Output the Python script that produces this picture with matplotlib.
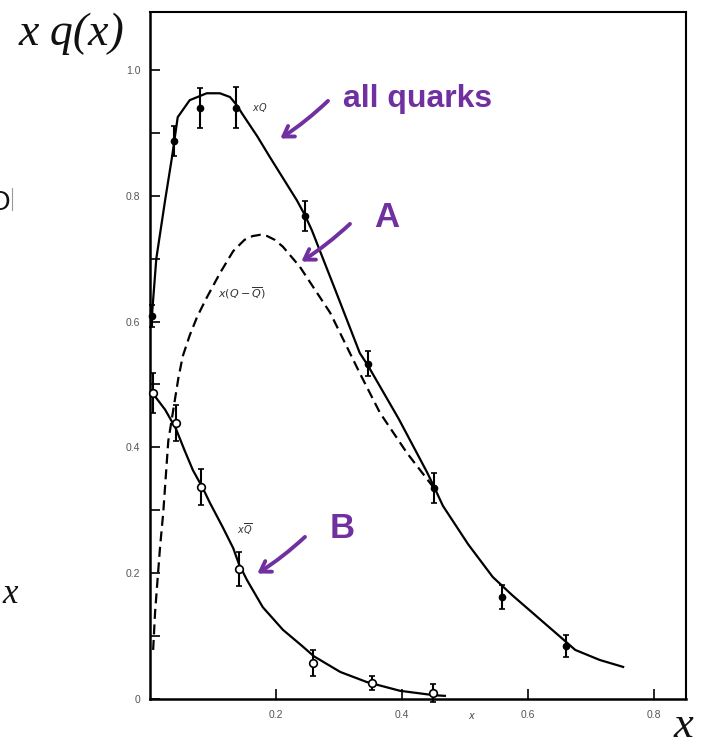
import matplotlib
matplotlib.use("Agg")
import matplotlib.pyplot as plt
from matplotlib.patches import FancyArrowPatch
from matplotlib.ticker import MultipleLocator

# measured points: x Q (all quarks), filled circles
xq_x = [0.003, 0.038, 0.079, 0.137, 0.246, 0.346, 0.451, 0.559, 0.660]
xq_y = [0.609, 0.887, 0.940, 0.940, 0.768, 0.533, 0.335, 0.162, 0.084]
xq_err = [0.017, 0.024, 0.032, 0.033, 0.024, 0.020, 0.024, 0.019, 0.017]

# measured points: x Qbar (antiquarks), open circles
xqbar_x = [0.005, 0.041, 0.081, 0.141, 0.259, 0.352, 0.449]
xqbar_y = [0.486, 0.439, 0.337, 0.207, 0.057, 0.025, 0.010]
xqbar_err = [0.032, 0.029, 0.029, 0.027, 0.021, 0.011, 0.014]

# fitted curves
fit_xq_x = [0.003, 0.010, 0.024, 0.035, 0.044, 0.063, 0.090, 0.111, 0.127, 0.137,
            0.148, 0.170, 0.190, 0.233, 0.246, 0.257, 0.295, 0.333, 0.346, 0.395,
            0.440, 0.451, 0.465, 0.505, 0.544, 0.575, 0.613, 0.651, 0.675, 0.714, 0.751]
fit_xq_y = [0.609, 0.700, 0.793, 0.862, 0.925, 0.952, 0.963, 0.963, 0.957, 0.945,
            0.928, 0.895, 0.862, 0.793, 0.769, 0.745, 0.648, 0.550, 0.530, 0.445,
            0.360, 0.337, 0.307, 0.246, 0.194, 0.165, 0.132, 0.099, 0.078, 0.062, 0.051]

fit_val_x = [0.005, 0.008, 0.012, 0.016, 0.021, 0.029, 0.037, 0.045, 0.052, 0.063, 0.075,
             0.090, 0.111, 0.132, 0.150, 0.163, 0.175, 0.186, 0.198, 0.211, 0.238, 0.286,
             0.333, 0.365, 0.408, 0.451]
fit_val_y = [0.078, 0.137, 0.190, 0.242, 0.296, 0.410, 0.460, 0.510, 0.545, 0.578, 0.608,
             0.638, 0.677, 0.712, 0.730, 0.736, 0.738, 0.736, 0.730, 0.719, 0.687, 0.614,
             0.518, 0.455, 0.391, 0.335]

fit_sea_x = [0.005, 0.024, 0.041, 0.055, 0.068, 0.084, 0.095, 0.115, 0.132, 0.141,
             0.154, 0.179, 0.211, 0.243, 0.260, 0.302, 0.344, 0.397, 0.451, 0.468]
fit_sea_y = [0.485, 0.460, 0.430, 0.395, 0.364, 0.335, 0.312, 0.274, 0.240, 0.215,
             0.189, 0.146, 0.110, 0.083, 0.068, 0.043, 0.027, 0.013, 0.006, 0.005]

y_ticks = [0, 0.2, 0.4, 0.6, 0.8, 1.0]
y_labels = ['0', '0.2', '0.4', '0.6', '0.8', '1.0']
x_ticks = [0.2, 0.4, 0.6, 0.8]
x_labels = ['0.2', '0.4', '0.6', '0.8']

purple = '#7030A0'
W, H = 704, 747

fig = plt.figure(figsize=(W / 100, H / 100), dpi=100)
fig.patch.set_facecolor('white')

ax = fig.add_axes([150 / W, 1 - 699 / H, 536 / W, 687 / H])
ax.set_xlim(0, 536 / 630)
ax.set_ylim(0, 687 / 629)

ax.plot(fit_xq_x, fit_xq_y, color='black', lw=1.6)
ax.plot(fit_val_x, fit_val_y, color='black', lw=1.6, linestyle=(0, (4.5, 2.5)))
ax.plot(fit_sea_x, fit_sea_y, color='black', lw=1.6)

ax.errorbar(xq_x, xq_y, yerr=xq_err, fmt='o', color='black', ms=4.5,
            elinewidth=1.5, capsize=2.5, capthick=1.2, clip_on=False, zorder=4)
ax.errorbar(xqbar_x, xqbar_y, yerr=xqbar_err, fmt='o', color='black', mfc='white',
            mec='black', mew=1.2, ms=5.5, elinewidth=1.5, capsize=2.5, capthick=1.2,
            clip_on=False, zorder=4)

ax.set_yticks(y_ticks)
ax.set_yticklabels(y_labels)
ax.set_xticks(x_ticks)
ax.set_xticklabels(x_labels)
ax.yaxis.set_minor_locator(MultipleLocator(0.1))
ax.tick_params(which='both', direction='in', width=1.2, length=7, colors='black',
               labelcolor='#555555', labelsize=7.5)
ax.tick_params(axis='y', pad=7)
ax.tick_params(axis='x', pad=8)
for lab in ax.get_xticklabels() + ax.get_yticklabels():
    lab.set_family('Liberation Sans')
for side in ['left', 'bottom']:
    ax.spines[side].set_linewidth(1.8)
for side in ['top', 'right']:
    ax.spines[side].set_linewidth(1.5)

# curve labels
ax.text(0.162, 0.94, r'$xQ$', fontsize=7, color='#333333', va='center')
ax.text(0.108, 0.645, r'$x(Q-\overline{Q})$', fontsize=8, color='#333333', va='center')
ax.text(0.138, 0.27, r'$x\overline{Q}$', fontsize=7, color='#333333', va='center')

# overlay in pixel coordinates for the slide annotations
ov = fig.add_axes([0, 0, 1, 1], facecolor='none')
ov.set_xlim(0, W)
ov.set_ylim(H, 0)
ov.axis('off')

ov.text(472, 716, r'$x$', fontsize=7, color='#444444', ha='center', va='center')

ov.text(19, 45, 'x q(x)', family='Liberation Serif', style='italic', fontsize=33,
        ha='left', va='baseline', color='#111111')
ov.text(674, 746, 'x', family='Liberation Serif', style='italic', fontsize=32,
        ha='left', va='bottom', color='#111111')
ov.text(2, 603, 'x', family='Liberation Serif', style='italic', fontsize=25,
        ha='left', va='baseline', color='#111111')
ov.text(10, 210, 'O', family='Liberation Sans', fontsize=20, ha='right',
        va='baseline', color='#111111')
ov.plot([12, 12], [188, 210], color='#999999', lw=0.8)

ov.text(343, 107, 'all quarks', family='Liberation Sans', weight='bold', fontsize=23,
        color=purple, ha='left', va='baseline')
ov.text(374, 227, 'A', family='Liberation Sans', weight='bold', fontsize=25,
        color=purple, ha='left', va='baseline')
ov.text(330, 538, 'B', family='Liberation Sans', weight='bold', fontsize=25,
        color=purple, ha='left', va='baseline')

for start, end in [((330, 99), (278, 140)), ((352, 222), (299, 263)), ((307, 535), (255, 575))]:
    ov.add_patch(FancyArrowPatch(start, end, arrowstyle='->,head_length=7,head_width=4.5',
                                 color=purple, lw=2.8, mutation_scale=1,
                                 connectionstyle='arc3,rad=-0.05'))

fig.savefig('out.png', dpi=100)
